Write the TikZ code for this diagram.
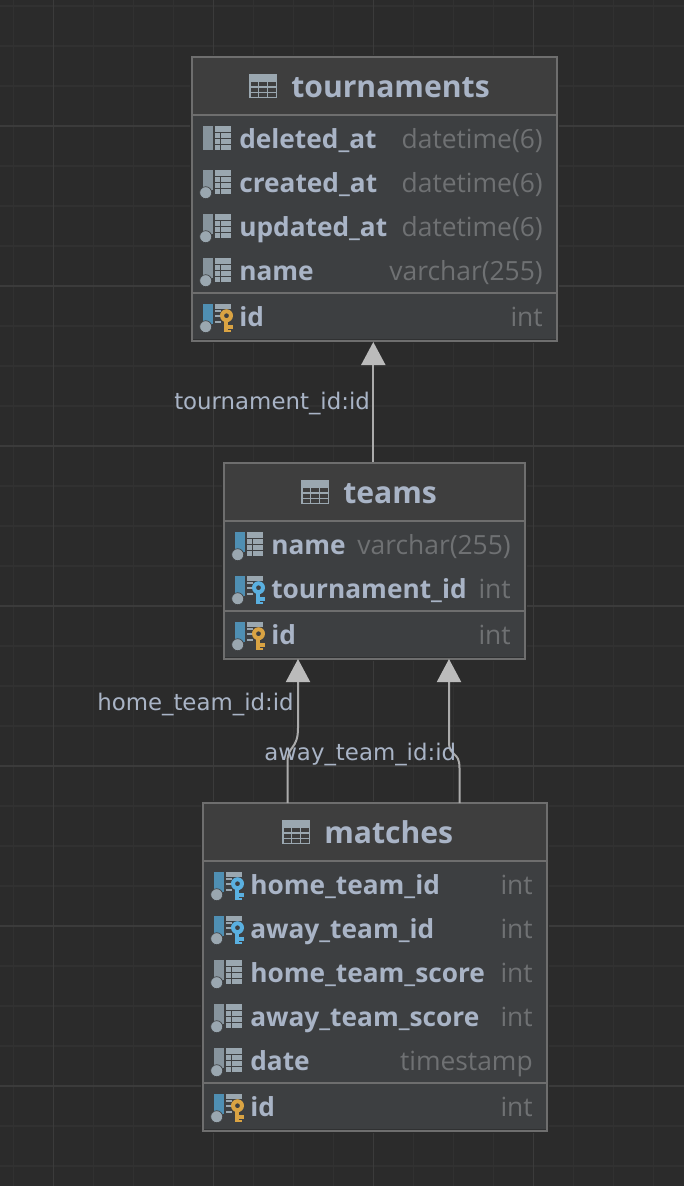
\documentclass[tikz,border=0pt]{standalone}
\usepackage{fontspec}
\setmainfont{Open Sans}
\newfontfamily\labfont{DejaVu Sans}
\usetikzlibrary{arrows.meta,fit}
\definecolor{bgc}{HTML}{2B2B2B}
\definecolor{gridminor}{HTML}{313131}
\definecolor{gridmajor}{HTML}{3B3B3B}
\definecolor{bodyc}{HTML}{3D3F41}
\definecolor{headc}{HTML}{3E3E3E}
\definecolor{borderc}{HTML}{6E6E6E}
\definecolor{textc}{HTML}{A9B4C6}
\definecolor{typec}{HTML}{6F7173}
\definecolor{iconc}{HTML}{9AA7B0}
\definecolor{barc}{HTML}{87949D}
\definecolor{bluec}{HTML}{4F8FB3}
\definecolor{goldc}{HTML}{D9A343}
\definecolor{skyc}{HTML}{5AB0E0}
\definecolor{linec}{HTML}{ABABAB}
\definecolor{tipc}{HTML}{BBBBBB}
\tikzset{
  x=0.75pt,y=-0.75pt,
  tablebox/.style={draw=borderc,line width=1.5pt,fill=bodyc,inner sep=0pt},
  halo/.style={draw=bgc,line width=3pt,inner sep=0pt},
  sepline/.style={draw=borderc,line width=1.5pt},
  titletext/.style={anchor=base west,inner sep=0pt,text=textc,font=\fontsize{22.6pt}{24pt}\selectfont\bfseries},
  coltext/.style={anchor=base west,inner sep=0pt,text=textc,font=\fontsize{19.7pt}{22pt}\selectfont\bfseries},
  typetext/.style={anchor=base east,inner sep=0pt,text=typec,font=\fontsize{19.8pt}{22pt}\selectfont},
  rellabel/.style={anchor=base west,inner sep=0pt,text=textc,font=\labfont\fontsize{17.15pt}{20pt}\selectfont},
  rel/.style={draw=linec,line width=1.5pt,-{Triangle[length=17.25pt,width=18pt,color=tipc]}},
  pics/tabhead/.style={code={
    \fill[iconc] (0,-13) rectangle (28,11);
    \foreach \cx in {1.5,10.3,19.1}{\foreach \cy in {-4.8,0.6,6}{
      \fill[headc] (\cx,\cy) rectangle ++(7.4,3.9);}}
  }},
  pics/coltable/.style={code={
    \fill[iconc] (12,-13) rectangle (28,10.5);
    \draw[bodyc,line width=.75pt] (12,-7) -- (28,-7) (12,-1) -- (28,-1) (12,5) -- (28,5) (17,-7) -- (17,10.5);
  }},
  pics/keytable/.style={code={
    \fill[iconc] (12,-13) rectangle (28,-8);
    \draw[iconc,line width=1.5pt] (12,-6) -- (18,-6) (12,-1) -- (18,-1) (12,5) -- (18,5);
  }},
  pics/plainbar/.style={code={\fill[#1] (0,-13) rectangle (10,10.5);}},
  pics/dotbar/.style={code={
    \fill[#1] (0,-13) rectangle (10,7);
    \fill[iconc,draw=bodyc,line width=.5pt] (2.7,9.7) circle (6);
  }},
  pics/keymark/.style={code={
    \fill[#1] (20.5,3) rectangle (25,15);
    \fill[#1] (25,8) rectangle (30,11.5);
    \fill[#1] (25,12.5) rectangle (28,15);
    \fill[#1,even odd rule] (23.5,-1.3) circle (6.5) (23.5,-1.3) circle (2.5);
  }},
}
\newcommand{\tabl}[6]{% name x1 y1 x2 y2 headbottom
  \node[halo,fit={(#2,#3)(#4,#5)}] {};
  \node[tablebox,fit={(#2,#3)(#4,#5)}] (#1) {};
  \fill[headc] (#2+1,#3+1) rectangle (#4-1,#6);
  \draw[sepline] (#2+1,#6) -- (#4-1,#6);
  \draw[bgc!70!bodyc,line width=.75pt] (#2+1,#5-1.5) -- (#4-1,#5-1.5);
}
% name, icon-x, row-y, text-x, right-x, label, type, pic list
\newcommand{\crow}[8]{%
  \begin{scope}[shift={(#2,#3)}]#8\end{scope}
  \node[coltext] (#1n) at (#4-1,#3+9) {#6};
  \node[typetext] (#1t) at (#5,#3+9) {#7};
}
\newcommand{\sbar}[1]{\pic {plainbar={#1}};}
\newcommand{\dbar}[1]{\pic {dotbar={#1}};}
\newcommand{\ctab}{\pic {coltable};}
\newcommand{\ktab}[1]{\pic {keytable};\pic {keymark={#1}};}
\begin{document}
\begin{tikzpicture}
\useasboundingbox (0,0) rectangle (684,1186);
\fill[bgc] (0,0) rectangle (684,1186);
% grid
\foreach \gx in {13.5,93.5,133.5,173.5,253.5,293.5,333.5,413.5,453.5,493.5,573.5,613.5,653.5}
  \draw[gridminor,line width=.9pt] (\gx,0) -- (\gx,1186);
\foreach \gy in {6,46,86,166,206,246,326,366,406,486,526,566,646,686,726,806,846,886,966,1006,1046,1126,1166}
  \draw[gridminor,line width=.9pt] (0,\gy) -- (684,\gy);
\foreach \gx in {53.5,213.5,373.5,533.5}
  \draw[gridmajor,line width=.9pt] (\gx,0) -- (\gx,1186);
\foreach \gy in {126,286,446,606,766,926,1086}
  \draw[gridmajor,line width=.9pt] (0,\gy) -- (684,\gy);

% tournaments
\tabl{tournaments}{192}{57}{557}{341}{115}
\pic at (249,87) {tabhead};
\node[titletext] (tournamentstitle) at (291,97.5) {tournaments};
\crow{ta}{203}{139}{240}{543}{deleted\_at}{datetime(6)}{\sbar{barc}\ctab}
\crow{tb}{203}{183}{240}{543}{created\_at}{datetime(6)}{\dbar{barc}\ctab}
\crow{tc}{203}{227}{240}{543}{updated\_at}{datetime(6)}{\dbar{barc}\ctab}
\crow{td}{203}{271}{240}{543}{name}{varchar(255)}{\dbar{barc}\ctab}
\draw[sepline] (193,293) -- (556,293);
\crow{te}{203}{317}{240}{543}{id}{int}{\dbar{bluec}\ktab{goldc}}

% teams
\tabl{teams}{224}{463}{525}{659}{521}
\pic at (301,493) {tabhead};
\node[titletext] (teamstitle) at (343,503.5) {teams};
\crow{ua}{235}{545}{272}{511}{name}{varchar(255)}{\dbar{bluec}\ctab}
\crow{ub}{235}{589}{272}{511}{tournament\_id}{int}{\dbar{bluec}\ktab{skyc}}
\draw[sepline] (225,611) -- (524,611);
\crow{uc}{235}{635}{272}{511}{id}{int}{\dbar{bluec}\ktab{goldc}}

% matches
\tabl{matches}{203}{803}{547}{1131}{861}
\pic at (282,833) {tabhead};
\node[titletext] (matchestitle) at (324,843.5) {matches};
\crow{ma}{214}{885}{251}{533}{home\_team\_id}{int}{\dbar{bluec}\ktab{skyc}}
\crow{mb}{214}{929}{251}{533}{away\_team\_id}{int}{\dbar{bluec}\ktab{skyc}}
\crow{mc}{214}{973}{251}{533}{home\_team\_score}{int}{\dbar{barc}\ctab}
\crow{md}{214}{1017}{251}{533}{away\_team\_score}{int}{\dbar{barc}\ctab}
\crow{me}{214}{1061}{251}{533}{date}{timestamp}{\dbar{barc}\ctab}
\draw[sepline] (204,1083) -- (546,1083);
\crow{mf}{214}{1107}{251}{533}{id}{int}{\dbar{bluec}\ktab{goldc}}

% connectors
\coordinate (homefoot) at (287.5,803);
\coordinate (homehead) at (298,659);
\coordinate (awayfoot) at (459.5,803);
\coordinate (awayhead) at (449,659);
\draw[rel] ([xshift=-.9pt]teams.north) -- ([xshift=-.9pt]tournaments.south);
\draw[rel] (homefoot) -- (287.5,762) .. controls (287.5,745) and (298,750) .. (298,728) -- (homehead);
\draw[rel] (awayfoot) -- (459.5,768) .. controls (459.5,750) and (449,758) .. (449,742) -- (awayhead);

% connector labels
\node[rellabel] (lab1) at (174,409.5) {tournament\_id:id};
\node[rellabel] (lab2) at (97,710.5) {home\_team\_id:id};
\node[rellabel] (lab3) at (264,760.5) {away\_team\_id:id};
\end{tikzpicture}
\end{document}
